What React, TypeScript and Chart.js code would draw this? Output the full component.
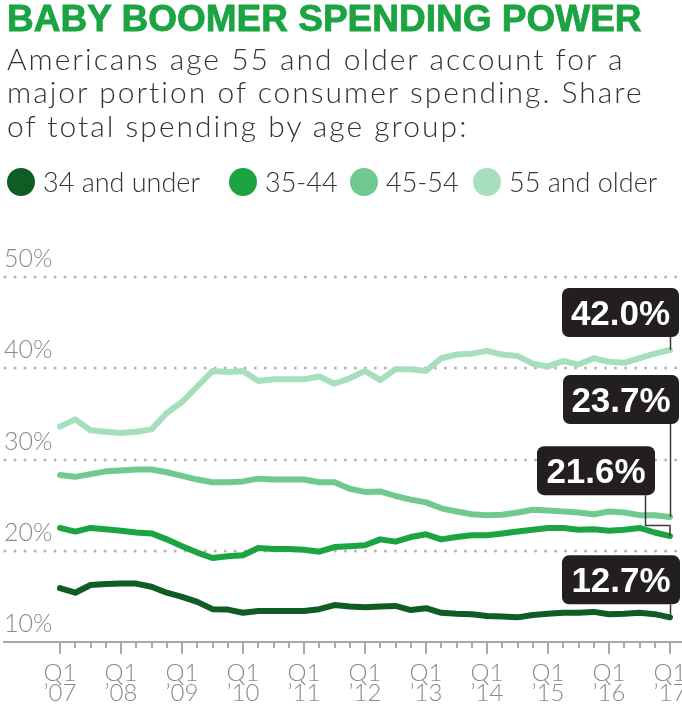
import React, { useEffect, useRef } from 'react';
import { Chart, registerables } from 'chart.js';

Chart.register(...registerables);

const quarterLabels = [
  "Q1 '07", "Q2 '07", "Q3 '07", "Q4 '07",
  "Q1 '08", "Q2 '08", "Q3 '08", "Q4 '08",
  "Q1 '09", "Q2 '09", "Q3 '09", "Q4 '09",
  "Q1 '10", "Q2 '10", "Q3 '10", "Q4 '10",
  "Q1 '11", "Q2 '11", "Q3 '11", "Q4 '11",
  "Q1 '12", "Q2 '12", "Q3 '12", "Q4 '12",
  "Q1 '13", "Q2 '13", "Q3 '13", "Q4 '13",
  "Q1 '14", "Q2 '14", "Q3 '14", "Q4 '14",
  "Q1 '15", "Q2 '15", "Q3 '15", "Q4 '15",
  "Q1 '16", "Q2 '16", "Q3 '16", "Q4 '16",
  "Q1 '17",
];
const yearTickLabels = ['’07', '’08', '’09', '’10', '’11', '’12', '’13', '’14', '’15', '’16', '’17'];
const yTickValues = [10, 20, 30, 40, 50];

const under34 = [15.9, 15.4, 16.25, 16.35, 16.4, 16.4, 16.05, 15.4, 14.95, 14.4, 13.6, 13.55, 13.2, 13.4, 13.4, 13.4, 13.4, 13.6, 14.05, 13.9, 13.8, 13.9, 13.95, 13.5, 13.7, 13.2, 13.1, 13.05, 12.85, 12.8, 12.7, 12.95, 13.1, 13.2, 13.2, 13.3, 13.05, 13.1, 13.2, 13.05, 12.7];
const age3544 = [22.5, 22.1, 22.5, 22.35, 22.2, 22.0, 21.9, 21.25, 20.5, 19.8, 19.2, 19.4, 19.5, 20.3, 20.2, 20.2, 20.1, 19.9, 20.4, 20.5, 20.6, 21.25, 21.0, 21.5, 21.8, 21.25, 21.5, 21.7, 21.7, 21.9, 22.1, 22.3, 22.5, 22.5, 22.3, 22.35, 22.2, 22.3, 22.5, 22.0, 21.6];
const age4554 = [28.3, 28.1, 28.4, 28.7, 28.8, 28.9, 28.9, 28.6, 28.2, 27.8, 27.5, 27.5, 27.6, 27.9, 27.8, 27.8, 27.8, 27.5, 27.5, 26.8, 26.45, 26.5, 26.0, 25.6, 25.3, 24.65, 24.3, 24.0, 23.9, 23.95, 24.2, 24.5, 24.4, 24.3, 24.2, 24.0, 24.3, 24.2, 23.9, 23.9, 23.7];
const age55plus = [33.6, 34.4, 33.2, 33.05, 32.9, 33.05, 33.3, 35.1, 36.3, 38.0, 39.7, 39.6, 39.7, 38.6, 38.8, 38.8, 38.8, 39.1, 38.3, 38.9, 39.7, 38.7, 39.9, 39.9, 39.7, 41.1, 41.5, 41.6, 41.9, 41.5, 41.35, 40.5, 40.2, 40.8, 40.4, 41.1, 40.7, 40.6, 41.1, 41.6, 42.0];

const seriesNames = ['34 and under', '35-44', '45-54', '55 and older'];
const seriesData = [under34, age3544, age4554, age55plus];
const seriesColors = ['#0f5c25', '#1ba441', '#70c98e', '#a6dfbb'];
const endLabels = ['12.7%', '21.6%', '23.7%', '42.0%'];

const TITLE = 'BABY BOOMER SPENDING POWER';
const SUBTITLE_LINES = [
  'Americans age 55 and older account for a',
  'major portion of consumer spending. Share',
  'of total spending by age group:',
];

const LIGHT_FONT = 'Lato, "Open Sans", "DejaVu Sans", sans-serif';

// legend item left edges (styling only)
const legendLefts = [7, 229, 350, 473];

// callout layout, relative to the end point of each series
const callouts = [
  { ds: 0, right: 10, width: 118, bottomAbove: 13 },
  { ds: 1, right: -15, width: 118, bottomAbove: 41, elbowAbove: 11, stemOffset: -25 },
  { ds: 2, right: 9, width: 116, bottomAbove: 93 },
  { ds: 3, right: 9, width: 117, bottomAbove: 13 },
];

const decorPlugin = {
  id: 'decor',
  beforeDatasetsDraw(chart: any) {
    const { ctx } = chart;
    const x = chart.scales.x;
    const y = chart.scales.y;
    const W = chart.width;
    ctx.save();
    // dotted gridlines
    ctx.strokeStyle = '#b4b4b4';
    ctx.lineWidth = 3;
    ctx.lineCap = 'round';
    ctx.setLineDash([0.01, 10]);
    yTickValues.slice(1).forEach((v) => {
      const py = Math.round(y.getPixelForValue(v));
      ctx.beginPath();
      ctx.moveTo(5, py);
      ctx.lineTo(W - 3, py);
      ctx.stroke();
    });
    ctx.setLineDash([]);
    // y labels
    ctx.fillStyle = '#8a8a8a';
    ctx.font = `300 25px ${LIGHT_FONT}`;
    ctx.textAlign = 'left';
    ctx.textBaseline = 'alphabetic';
    yTickValues.forEach((v) => {
      ctx.fillText(`${v}%`, 4, y.getPixelForValue(v) - 10);
    });
    // axis line
    const base = Math.round(y.getPixelForValue(yTickValues[0]));
    ctx.strokeStyle = '#a8a8a8';
    ctx.lineWidth = 2;
    ctx.lineCap = 'butt';
    ctx.beginPath();
    ctx.moveTo(3, base);
    ctx.lineTo(W, base);
    ctx.stroke();
    // ticks + labels
    ctx.textAlign = 'center';
    ctx.font = `300 24px ${LIGHT_FONT}`;
    quarterLabels.forEach((_, i) => {
      const px = Math.round(x.getPixelForValue(i));
      const major = i % 4 === 0;
      ctx.beginPath();
      ctx.moveTo(px, base);
      ctx.lineTo(px, base + (major ? 12 : 6));
      ctx.stroke();
      if (major) {
        ctx.fillText('Q1', px, base + 39);
        ctx.fillText(yearTickLabels[i / 4], px, base + 59);
      }
    });
    ctx.restore();
  },
  afterDatasetsDraw(chart: any) {
    const { ctx } = chart;
    const x = chart.scales.x;
    const y = chart.scales.y;
    const last = quarterLabels.length - 1;
    const ex = x.getPixelForValue(last);
    ctx.save();
    callouts.forEach((c) => {
      const data = seriesData[c.ds];
      const ey = y.getPixelForValue(data[last]);
      const h = 49;
      const bottom = ey - c.bottomAbove;
      const top = bottom - h;
      const right = ex + c.right;
      const left = right - c.width;
      // connector
      ctx.strokeStyle = '#3a3a3a';
      ctx.lineWidth = 1.5;
      ctx.beginPath();
      if (c.elbowAbove !== undefined) {
        const sx = Math.round(ex + (c.stemOffset || 0)) + 0.5;
        const ely = Math.round(ey - c.elbowAbove) + 0.5;
        ctx.moveTo(sx, bottom);
        ctx.lineTo(sx, ely);
        ctx.lineTo(ex, ely);
        ctx.lineTo(ex, ey);
      } else {
        ctx.moveTo(Math.round(ex) + 0.5, bottom);
        ctx.lineTo(Math.round(ex) + 0.5, ey);
      }
      ctx.stroke();
      // box
      ctx.fillStyle = '#231f20';
      ctx.beginPath();
      ctx.roundRect(left, top, c.width, h, 7);
      ctx.fill();
      ctx.fillStyle = '#ffffff';
      ctx.font = 'bold 35px "Liberation Sans", Arial, sans-serif';
      ctx.textAlign = 'center';
      ctx.textBaseline = 'alphabetic';
      ctx.fillText(endLabels[c.ds], left + c.width / 2, top + 37);
    });
    ctx.restore();
  },
};

export default function App() {
  const canvasRef = useRef<HTMLCanvasElement | null>(null);

  useEffect(() => {
    document.body.style.margin = '0';
    const canvas = canvasRef.current;
    if (!canvas) return;
    const chart = new Chart(canvas, {
      type: 'line',
      data: {
        labels: quarterLabels,
        datasets: seriesData.map((d, i) => ({
          label: seriesNames[i],
          data: d,
          borderColor: seriesColors[i],
          backgroundColor: seriesColors[i],
          borderWidth: 6,
          pointRadius: 0,
          pointHoverRadius: 0,
          tension: 0,
          borderJoinStyle: 'round',
          borderCapStyle: 'round',
          fill: false,
        })),
      },
      options: {
        responsive: false,
        animation: false,
        events: [],
        layout: { padding: { left: 60, right: 12, top: 277, bottom: 78 } },
        plugins: {
          legend: { display: false },
          tooltip: { enabled: false },
          title: { display: false },
        },
        scales: {
          x: { display: false },
          y: { display: false, min: 10, max: 50 },
        },
      },
      plugins: [decorPlugin],
    } as any);
    return () => chart.destroy();
  }, []);

  return (
    <div style={{ position: 'relative', width: 682, height: 720, background: '#fff', overflow: 'hidden' }}>
      <canvas ref={canvasRef} width={682} height={720} style={{ position: 'absolute', left: 0, top: 0, width: 682, height: 720 }} />
      <div
        style={{
          position: 'absolute', left: 7, top: 0, whiteSpace: 'nowrap',
          font: 'bold 37px "Liberation Sans", Arial, sans-serif', lineHeight: '37px', color: '#1ba441',
          WebkitTextStroke: '0.8px #1ba441',
        }}
      >
        {TITLE}
      </div>
      <div
        style={{
          position: 'absolute', left: 7, top: 41.7, whiteSpace: 'nowrap',
          fontFamily: LIGHT_FONT, fontWeight: 300, fontSize: 30, lineHeight: '33.4px', color: '#333333',
          letterSpacing: '2px',
        }}
      >
        {SUBTITLE_LINES.map((l, i) => (
          <div key={i}>{l}</div>
        ))}
      </div>
      {seriesNames.map((n, i) => (
        <div key={n} style={{ position: 'absolute', left: legendLefts[i], top: 168, height: 28, display: 'flex', alignItems: 'center' }}>
          <span style={{ width: 28, height: 28, borderRadius: '50%', background: seriesColors[i], marginRight: 8, display: 'inline-block', flex: 'none' }} />
          <span style={{ fontFamily: LIGHT_FONT, fontWeight: 300, fontSize: 27, lineHeight: '28px', color: '#333333', whiteSpace: 'nowrap' }}>
            {n}
          </span>
        </div>
      ))}
    </div>
  );
}
